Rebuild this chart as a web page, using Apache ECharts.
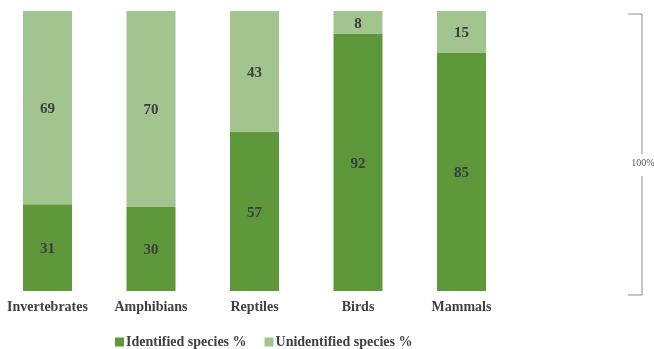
<!DOCTYPE html>
<html>
<head>
<meta charset="utf-8">
<script src="https://cdn.jsdelivr.net/npm/echarts@6/dist/echarts.min.js"></script>
<style>
  html, body { margin: 0; padding: 0; background: #ffffff; }
  #chart { width: 654px; height: 349px; }
</style>
</head>
<body>
<div id="chart"></div>
<script>
// Share of identified vs. unidentified species per animal group (%)
const categories = ['Invertebrates', 'Amphibians', 'Reptiles', 'Birds', 'Mammals'];
const identified = [31, 30, 57, 92, 85];
const unidentified = [69, 70, 43, 8, 15];

const serif = '"Liberation Serif", "Times New Roman", serif';
const darkGreen = '#5f973b';
const lightGreen = '#a2c48f';

const labelStyle = {
  show: true,
  position: 'inside',
  offset: [0, 1.5],
  fontFamily: serif,
  fontWeight: 'bold',
  fontSize: 15,
  color: '#3d3d3d'
};

const chart = echarts.init(document.getElementById('chart'));
chart.setOption({
  animation: false,
  grid: {
    left: -4.25, top: 11, width: 517.5, height: 280,
    containLabel: false,
    outerBoundsMode: 'none'
  },
  xAxis: {
    type: 'category',
    data: categories,
    axisLine: { show: false },
    axisTick: { show: false },
    axisLabel: {
      interval: 0,
      hideOverlap: false,
      fontFamily: serif,
      fontWeight: 'bold',
      fontSize: 14,
      color: '#404040',
      margin: 9
    }
  },
  yAxis: {
    type: 'value',
    min: 0,
    max: 100,
    show: false
  },
  legend: {
    top: 330,
    left: 110,
    itemWidth: 9,
    itemHeight: 9,
    itemGap: 18,
    icon: 'rect',
    textStyle: {
      fontFamily: serif,
      fontWeight: 'bold',
      fontSize: 14,
      color: '#404040',
      padding: [0, 0, 0, -3]
    },
    data: ['Identified species %', 'Unidentified species %']
  },
  series: [
    {
      name: 'Identified species %',
      type: 'bar',
      stack: 'total',
      barWidth: 49,
      itemStyle: { color: darkGreen },
      label: labelStyle,
      data: identified
    },
    {
      name: 'Unidentified species %',
      type: 'bar',
      stack: 'total',
      barWidth: 49,
      itemStyle: { color: lightGreen },
      label: labelStyle,
      data: unidentified
    }
  ],
  graphic: [
    // bracket spanning the full 100% height
    {
      type: 'polyline',
      shape: { points: [[628, 14], [642, 14], [642, 154]] },
      style: { stroke: '#8c8c8c', lineWidth: 1, fill: null }
    },
    {
      type: 'polyline',
      shape: { points: [[642, 176], [642, 295], [628, 295]] },
      style: { stroke: '#8c8c8c', lineWidth: 1, fill: null }
    },
    {
      type: 'text',
      x: 643,
      y: 163,
      style: {
        text: '100%',
        fontFamily: serif,
        fontSize: 10,
        fill: '#595959',
        align: 'center',
        verticalAlign: 'middle'
      }
    }
  ]
});
</script>
</body>
</html>
